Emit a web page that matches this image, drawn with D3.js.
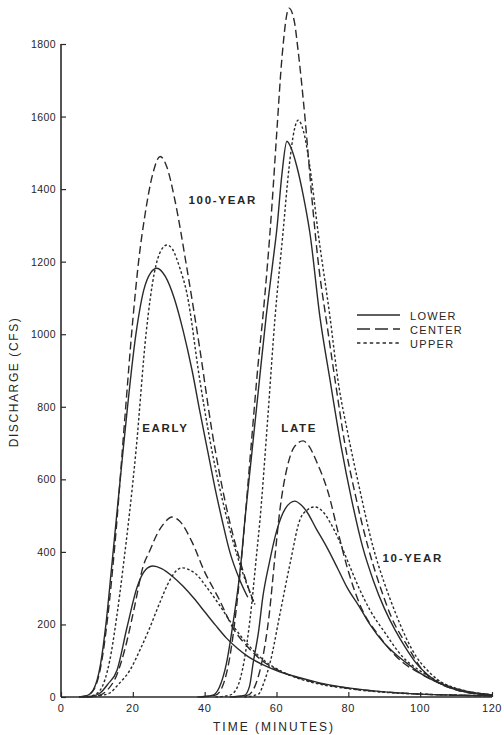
<!DOCTYPE html>
<html>
<head>
<meta charset="utf-8">
<script src="https://cdn.jsdelivr.net/npm/d3@7"></script>
<style>
  html, body { margin: 0; padding: 0; background: #fff; }
  svg { display: block; }
  text { font-family: "Liberation Sans", "DejaVu Sans", sans-serif; fill: #262626; }
</style>
</head>
<body>
<svg id="chart" width="504" height="735"></svg>
<script>
// Hydrographs: discharge (cfs) against time (minutes), pairs of [minute, cfs]

// 100-year storm, early-peaking
const early100Lower  = [[5,0],[7,3],[9,20],[11,90],[12.5,200],[14.1,358],[17.3,681],[20.9,1003],[23,1120],[25,1170],[26.7,1182],[29,1160],[31.5,1100],[34,1010],[36.5,900],[38.7,785],[41,670],[43,570],[44.8,490],[47,400],[49.8,322],[52,275]];
const early100Center = [[5,0],[7,3],[9,18],[11,80],[13,220],[15,420],[17.8,772],[20,1040],[21.6,1200],[23.4,1330],[25.5,1440],[27.6,1490],[29.5,1460],[31.7,1370],[35,1185],[38.7,956],[42,735],[46,525],[50,370],[53.5,262]];
const early100Upper  = [[6,0],[8.5,3],[10.9,19],[13.6,102],[15.5,220],[17.3,358],[20.9,681],[23.7,1003],[26,1170],[27.8,1230],[29.5,1246],[31,1235],[33,1185],[35,1115],[38.7,870],[42,680],[46,500],[50,360],[54,255]];

// 100-year storm, late-peaking
const late100Lower  = [[38,0],[42,4],[44,25],[46,90],[48,210],[50,360],[51.2,488],[53,660],[55,850],[57.1,1047],[59,1200],[60.1,1290],[61.5,1440],[62.9,1532],[64.2,1510],[65.7,1461],[67.5,1380],[69.3,1279],[72.1,1047],[74.9,874],[78,690],[81,540],[84,413],[87,320],[90,245],[93,185],[96,135],[99,92],[102,62],[105,40],[110,20],[115,10],[120,5]];
const late100Center = [[39,0],[43,5],[45,30],[47,110],[49,260],[50.7,430],[53,700],[55,930],[56.2,1047],[58.7,1350],[60.1,1560],[61.5,1760],[63.5,1899],[65,1860],[66,1783],[67.9,1600],[69.9,1370],[71.6,1200],[74,1030],[76.3,874],[79,700],[82,555],[85.5,413],[89,300],[92,220],[96.6,138],[100.8,72],[105,40],[110,20],[120,5]];
const late100Upper  = [[43,0],[47,5],[49,25],[51,100],[52.6,212],[54.5,397],[55.4,488],[57.5,760],[59.6,1047],[61.8,1279],[63.5,1460],[65,1565],[66,1590],[67.5,1560],[69.3,1461],[71.6,1279],[74.9,1047],[77.1,874],[80,720],[83,580],[86.9,413],[90,315],[93,235],[96,165],[99,110],[102,74],[105,47],[110,22],[115,10],[120,5]];

// 10-year storm, early-peaking
const early10Lower  = [[6,0],[9,3],[10.9,11],[13,35],[15.6,74],[18.4,193],[21.2,303],[23.5,350],[25.6,361],[28,354],[31,333],[34,305],[37,272],[40,235],[43,198],[46,163],[49,135],[52,112],[56,90],[60,73],[66.5,53],[72,39],[80,25],[90,14],[100,8],[110,5],[120,3]];
const early10Center = [[7,0],[10.5,4],[13,20],[15.5,60],[18,140],[20.5,250],[22.8,358],[24.8,405],[26.7,448],[28.8,480],[30.9,496],[33,485],[36.5,427],[40,345],[44,270],[47.9,190],[52,138],[56,100],[60,76],[70,42],[80,24],[90,14],[100,8],[110,5],[120,3]];
const early10Upper  = [[8,0],[11,4],[13.6,11],[16,35],[19.2,74],[22,130],[24.8,193],[27.5,260],[30.3,322],[32,347],[33.7,356],[35.9,350],[38,335],[40,310],[44,255],[48,195],[52,145],[56,105],[60,78],[65,55],[70,40],[80,23],[90,13],[100,8],[110,5],[120,3]];

// 10-year storm, late-peaking
const late10Lower  = [[47,0],[51,4],[52.5,30],[53.5,94],[55,180],[56.2,276],[58,370],[60.1,460],[62.5,520],[65.1,540],[66.8,530],[68.5,510],[71,465],[74,413],[77,355],[79.6,303],[83,250],[86,200],[90,148],[93.5,115],[97,88],[100,66],[105,40],[110,22],[115,12],[120,6]];
const late10Center = [[48,0],[52,5],[54,30],[56,100],[58,230],[59.5,380],[61,520],[62.9,630],[65,690],[67.4,706],[69,692],[71.2,648],[74.5,560],[77,460],[79.6,360],[83.2,255],[88.8,165],[95.2,95],[100,65],[105,40],[110,22],[120,6]];
const late10Upper  = [[51,0],[55,8],[56.5,40],[58.2,94],[61,231],[63.8,369],[66.5,488],[68.5,515],[70.7,524],[73,510],[75,480],[77.5,430],[80,370],[83,300],[86,240],[90,180],[95,112],[100,72],[105,44],[110,24],[120,6]];

const xTicks = [0, 20, 40, 60, 80, 100, 120];
const yTicks = [0, 200, 400, 600, 800, 1000, 1200, 1400, 1600, 1800];
const legendNames = ["LOWER", "CENTER", "UPPER"];
const storyLabels = [
  { text: "100-YEAR", t: 35.5, q: 1358 },
  { text: "EARLY",    t: 22.6, q: 730 },
  { text: "LATE",     t: 61.3, q: 730 },
  { text: "10-YEAR",  t: 89.5, q: 372 }
];

// Line styles shared by the plot and the legend
const styles = {
  LOWER:  { dash: null },
  CENTER: { dash: "8,4" },
  UPPER:  { dash: "2.6,2.2" }
};
const legendDash = { LOWER: null, CENTER: "13,5", UPPER: "3.4,3" };

const series = [
  { data: early100Lower,  kind: "LOWER" },
  { data: early100Center, kind: "CENTER" },
  { data: early100Upper,  kind: "UPPER" },
  { data: late100Lower,   kind: "LOWER" },
  { data: late100Center,  kind: "CENTER" },
  { data: late100Upper,   kind: "UPPER" },
  { data: early10Lower,   kind: "LOWER" },
  { data: early10Center,  kind: "CENTER" },
  { data: early10Upper,   kind: "UPPER" },
  { data: late10Lower,    kind: "LOWER" },
  { data: late10Center,   kind: "CENTER" },
  { data: late10Upper,    kind: "UPPER" }
];

const ink = "#2a2a2a";
const svg = d3.select("#chart");

const x = d3.scaleLinear().domain([0, 120]).range([61, 492]);
const y = d3.scaleLinear().domain([0, 1800]).range([697, 44]);

// Axes: ticks point into the plot
const xAxis = svg.append("g")
  .attr("transform", `translate(0,${y(0)})`)
  .call(d3.axisTop(x).tickValues(xTicks).tickSize(5).tickFormat(() => ""));
xAxis.select(".domain").remove();
xAxis.selectAll("line").attr("stroke", ink).attr("stroke-width", 1.2);

const yAxis = svg.append("g")
  .attr("transform", `translate(${x(0)},0)`)
  .call(d3.axisRight(y).tickValues(yTicks).tickSize(5).tickFormat(() => ""));
yAxis.select(".domain").remove();
yAxis.selectAll("line").attr("stroke", ink).attr("stroke-width", 1.2);

svg.append("line")
  .attr("x1", x(0)).attr("x2", x(120))
  .attr("y1", y(0)).attr("y2", y(0))
  .attr("stroke", ink).attr("stroke-width", 1.6);
svg.append("line")
  .attr("x1", x(0)).attr("x2", x(0))
  .attr("y1", y(0)).attr("y2", y(1800))
  .attr("stroke", ink).attr("stroke-width", 1.6);

// Tick labels
svg.append("g").selectAll("text").data(xTicks).join("text")
  .attr("x", d => x(d)).attr("y", y(0) + 15)
  .attr("text-anchor", "middle")
  .attr("font-size", 11).attr("letter-spacing", 0.6)
  .text(d => d);

svg.append("g").selectAll("text").data(yTicks).join("text")
  .attr("x", x(0) - 5).attr("y", d => y(d) + 4)
  .attr("text-anchor", "end")
  .attr("font-size", 10.5).attr("letter-spacing", 0.4)
  .text(d => d);

// Axis titles
svg.append("text")
  .attr("x", 274).attr("y", 731)
  .attr("text-anchor", "middle")
  .attr("font-size", 12).attr("letter-spacing", 2)
  .text("TIME (MINUTES)");

svg.append("text")
  .attr("transform", "translate(18,382) rotate(-90)")
  .attr("text-anchor", "middle")
  .attr("font-size", 12).attr("letter-spacing", 1.6)
  .text("DISCHARGE (CFS)");

// Hydrograph curves
const line = d3.line()
  .x(d => x(d[0]))
  .y(d => y(d[1]))
  .curve(d3.curveMonotoneX);

svg.append("g").selectAll("path").data(series).join("path")
  .attr("d", d => line(d.data))
  .attr("fill", "none")
  .attr("stroke", ink)
  .attr("stroke-width", 1.4)
  .attr("stroke-dasharray", d => styles[d.kind].dash);

// In-plot labels
svg.append("g").selectAll("text").data(storyLabels).join("text")
  .attr("x", d => x(d.t)).attr("y", d => y(d.q))
  .attr("font-size", 11.5).attr("font-weight", "bold").attr("letter-spacing", 1.7)
  .text(d => d.text);

// Legend
const legend = svg.append("g");
const legendY = d3.scalePoint().domain(legendNames).range([315, 343]);
legend.selectAll("line").data(legendNames).join("line")
  .attr("x1", 357).attr("x2", 400)
  .attr("y1", d => legendY(d)).attr("y2", d => legendY(d))
  .attr("stroke", ink).attr("stroke-width", 1.4)
  .attr("stroke-dasharray", d => legendDash[d]);
legend.selectAll("text").data(legendNames).join("text")
  .attr("x", 410).attr("y", d => legendY(d) + 4.5)
  .attr("font-size", 11).attr("letter-spacing", 1.3)
  .text(d => d);
</script>
</body>
</html>
